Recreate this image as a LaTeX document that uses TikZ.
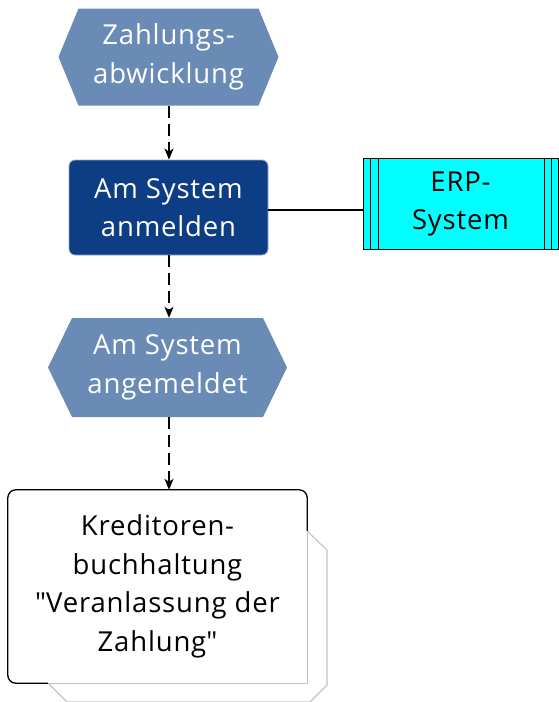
\documentclass[tikz,border=0pt]{standalone}
\usepackage{fontspec}
\setmainfont[LetterSpace=3]{Open Sans}
\newfontfamily\qfont[LetterSpace=3]{Open Sans}
\newcommand{\sq}{{\qfont\symbol{34}}}
\usetikzlibrary{arrows.meta}
\definecolor{evtcol}{RGB}{106,139,182}
\definecolor{funcol}{RGB}{12,61,133}
\definecolor{funborder}{RGB}{150,170,200}
\definecolor{erpcol}{RGB}{0,255,255}
\definecolor{shadowcol}{RGB}{195,195,195}
\tikzset{
  x=1pt, y=-1pt,
  lbl/.style={align=center, font=\fontsize{27.5}{38.5}\selectfont, inner sep=0pt},
  evt/.style={lbl, text=white, draw=none, shape=rectangle,
    path picture={\fill[evtcol] (path picture bounding box.west) -- ([xshift=#1]path picture bounding box.north west) -- ([xshift=-#1]path picture bounding box.north east) -- (path picture bounding box.east) -- ([xshift=-#1]path picture bounding box.south east) -- ([xshift=#1]path picture bounding box.south west) -- cycle;}},
  fun/.style={lbl, text=white, fill=funcol, draw=funborder, line width=0.8pt, rounded corners=6pt},
  sys/.style={lbl, text=black, fill=erpcol, draw=black, line width=1pt},
  org/.style={lbl, text=black, fill=white, draw=none},
  orgline/.style={draw=black, line width=1.3pt, rounded corners=8pt},
  shadowline/.style={draw=shadowcol, line width=1.1pt},
  flow/.style={line width=1.3pt, dash pattern=on 12pt off 6pt, -{Stealth[length=11pt,width=9pt,inset=3pt]}},
  link/.style={line width=1.3pt}
}
\begin{document}
\begin{tikzpicture}
\useasboundingbox (0,0) rectangle (559,702);
% shadow of org unit
\filldraw[fill=white, shadowline] (30,531) -- (307,531) -- (327,550) -- (327,685) -- (310,702) -- (67,702) -- (48,683) -- cycle;
\node[evt=20, minimum width=220, minimum height=97] (e1) at (168.5,57) {Zahlungs-\\abwicklung};
\node[fun, minimum width=199, minimum height=95] (f1) at (168.5,207.5) {Am System\\anmelden};
\node[sys, minimum width=195, minimum height=91] (s1) at (460.5,204) {ERP-\\System};
\draw[line width=1pt] ([xshift=8]s1.north west) -- ([xshift=8]s1.south west)
  ([xshift=16]s1.north west) -- ([xshift=16]s1.south west)
  ([xshift=-7]s1.north east) -- ([xshift=-7]s1.south east)
  ([xshift=-14]s1.north east) -- ([xshift=-14]s1.south east);
\node[evt=24, minimum width=239, minimum height=99] (e2) at (167.5,367.5) {Am System\\angemeldet};
\node[org, minimum width=299, minimum height=193] (o1) at (157.5,586.5) {Kreditoren-\\buchhaltung\\\sq Veranlassung der\\Zahlung\sq};
\draw[orgline] ([xshift=40]o1.south west) -- (o1.south west) -- (o1.north west) -- (o1.north east) -- ([yshift=-41]o1.north east);
\draw[shadowline, line width=1.3pt] ([xshift=40]o1.south west) -- (o1.south east) -- ([yshift=-41]o1.north east);
\draw[link] ([yshift=-2.5]f1.east) -- ([yshift=-2.5]s1.west |- f1.east);
\draw[flow] (e1.south -| 169,0) -- (f1.north -| 169,0);
\draw[flow] (f1.south -| 169,0) -- (e2.north -| 169,0);
\draw[flow] (e2.south -| 169,0) -- (o1.north -| 169,0);
\end{tikzpicture}
\end{document}
